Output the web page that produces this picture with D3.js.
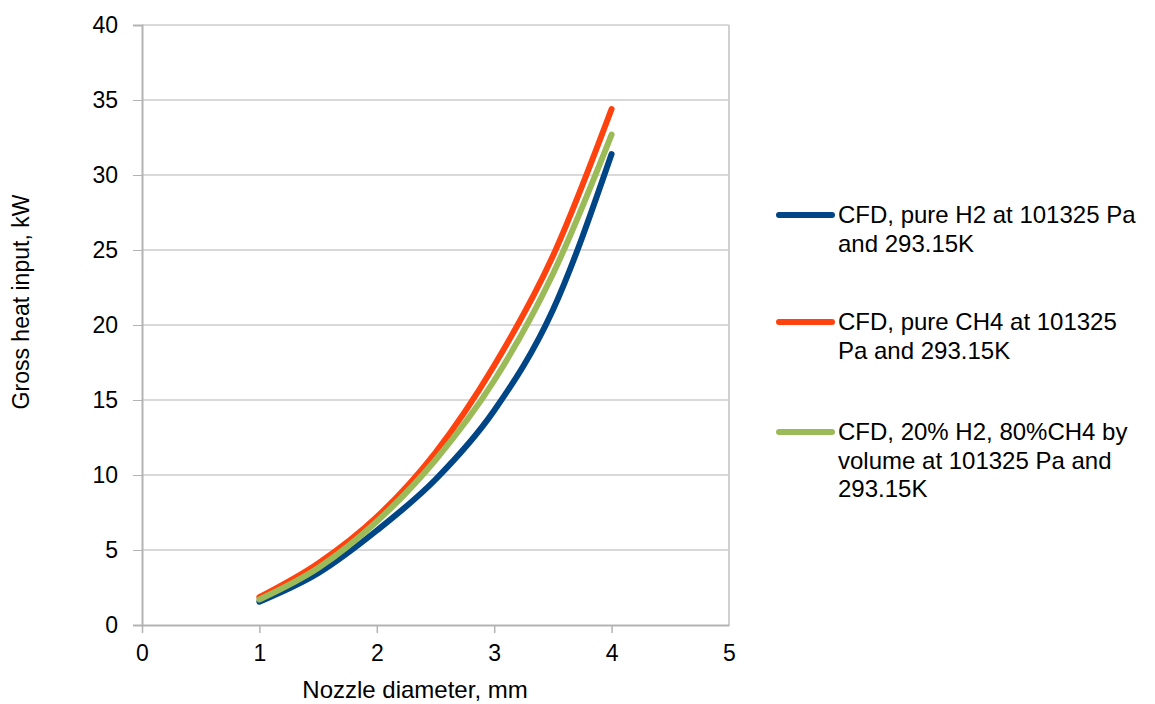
<!DOCTYPE html>
<html lang="en">
<head>
    <meta charset="UTF-8">
    <title>Gross heat input vs nozzle diameter</title>
    <script src="https://cdnjs.cloudflare.com/ajax/libs/d3/7.8.5/d3.min.js"></script>
    <style>
        body { margin: 0; background: #fff; }
        text { font-family: "Liberation Sans", Arial, sans-serif; fill: #000; }
    </style>
</head>
<body>
    <div id="chart"></div>
    <script>
        // Data
        const diameters = [1, 1.5, 2, 2.5, 3, 3.5, 4];
        const pureH2 = [1.55, 3.45, 6.3, 9.7, 14.3, 21.0, 31.4];
        const pureCH4 = [1.85, 4.1, 7.2, 11.5, 17.3, 24.6, 34.4];
        const mix20 = [1.7, 3.8, 6.9, 11.0, 16.3, 23.4, 32.7];

        const xTicks = [0, 1, 2, 3, 4, 5];
        const yTicks = [0, 5, 10, 15, 20, 25, 30, 35, 40];

        const series = [
            { name: ["CFD, pure H2 at 101325 Pa", "and 293.15K"], values: pureH2, color: "#004586" },
            { name: ["CFD, pure CH4 at 101325", "Pa and 293.15K"], values: pureCH4, color: "#ff420e" },
            { name: ["CFD, 20% H2, 80%CH4 by", "volume at 101325 Pa and", "293.15K"], values: mix20, color: "#9bbb59" }
        ];

        const W = 1155, H = 704;
        const plot = { left: 142, right: 729, top: 25, bottom: 625 };

        const svg = d3.select("#chart").append("svg")
            .attr("width", W)
            .attr("height", H);

        const x = d3.scaleLinear().domain([0, 5]).range([plot.left, plot.right]);
        const y = d3.scaleLinear().domain([0, 40]).range([plot.bottom, plot.top]);

        // horizontal grid lines
        svg.append("g")
            .selectAll("line")
            .data(yTicks.slice(1))
            .enter().append("line")
            .attr("x1", plot.left).attr("x2", plot.right)
            .attr("y1", d => y(d)).attr("y2", d => y(d))
            .attr("stroke", "#b3b3b3")
            .attr("stroke-width", 1);

        // right border of the plot area
        svg.append("line")
            .attr("x1", plot.right).attr("x2", plot.right)
            .attr("y1", plot.top).attr("y2", plot.bottom)
            .attr("stroke", "#d0d0d0")
            .attr("stroke-width", 2);

        // Y axis
        const yAxis = svg.append("g")
            .attr("transform", `translate(${plot.left},0)`)
            .call(d3.axisLeft(y).tickValues(yTicks).tickSize(9).tickPadding(15));
        yAxis.select(".domain").attr("stroke", "#b3b3b3").attr("stroke-width", 2);
        yAxis.selectAll(".tick line").attr("stroke", "#b3b3b3");
        yAxis.selectAll("text").style("font-size", "23px");

        // X axis (no tick mark under 5)
        const xAxis = svg.append("g")
            .attr("transform", `translate(0,${plot.bottom})`)
            .call(d3.axisBottom(x).tickValues(xTicks).tickFormat(d3.format("d"))
                .tickSize(8).tickPadding(12).tickSizeOuter(0));
        xAxis.select(".domain").attr("stroke", "#b3b3b3").attr("stroke-width", 2);
        xAxis.selectAll(".tick line")
            .attr("stroke", "#b3b3b3")
            .attr("stroke-width", 1.5)
            .attr("y2", d => d === 5 ? 0 : 8);
        xAxis.selectAll("text").style("font-size", "23px");

        // axis titles
        svg.append("text")
            .attr("x", 415)
            .attr("y", 698)
            .attr("text-anchor", "middle")
            .style("font-size", "24px")
            .text("Nozzle diameter, mm");

        svg.append("text")
            .attr("transform", "translate(29,302) rotate(-90)")
            .attr("text-anchor", "middle")
            .style("font-size", "23px")
            .text("Gross heat input, kW");

        // lines (smoothed like the source chart)
        const line = d3.line()
            .x((d, i) => x(diameters[i]))
            .y(d => y(d))
            .curve(d3.curveMonotoneX);

        svg.append("g")
            .selectAll("path")
            .data(series)
            .enter().append("path")
            .attr("d", d => line(d.values))
            .attr("fill", "none")
            .attr("stroke", d => d.color)
            .attr("stroke-width", 6)
            .attr("stroke-linecap", "round")
            .attr("stroke-linejoin", "round");

        // legend
        const legendY = [215, 322, 432];
        const legend = svg.append("g");
        series.forEach((s, i) => {
            const g = legend.append("g").attr("transform", `translate(0,${legendY[i]})`);
            g.append("line")
                .attr("x1", 779).attr("x2", 832)
                .attr("y1", 0).attr("y2", 0)
                .attr("stroke", s.color)
                .attr("stroke-width", 6)
                .attr("stroke-linecap", "round");
            s.name.forEach((t, j) => {
                g.append("text")
                    .attr("x", 838)
                    .attr("y", 8 + j * 28.5)
                    .style("font-size", "24px")
                    .text(t);
            });
        });
    </script>
</body>
</html>
